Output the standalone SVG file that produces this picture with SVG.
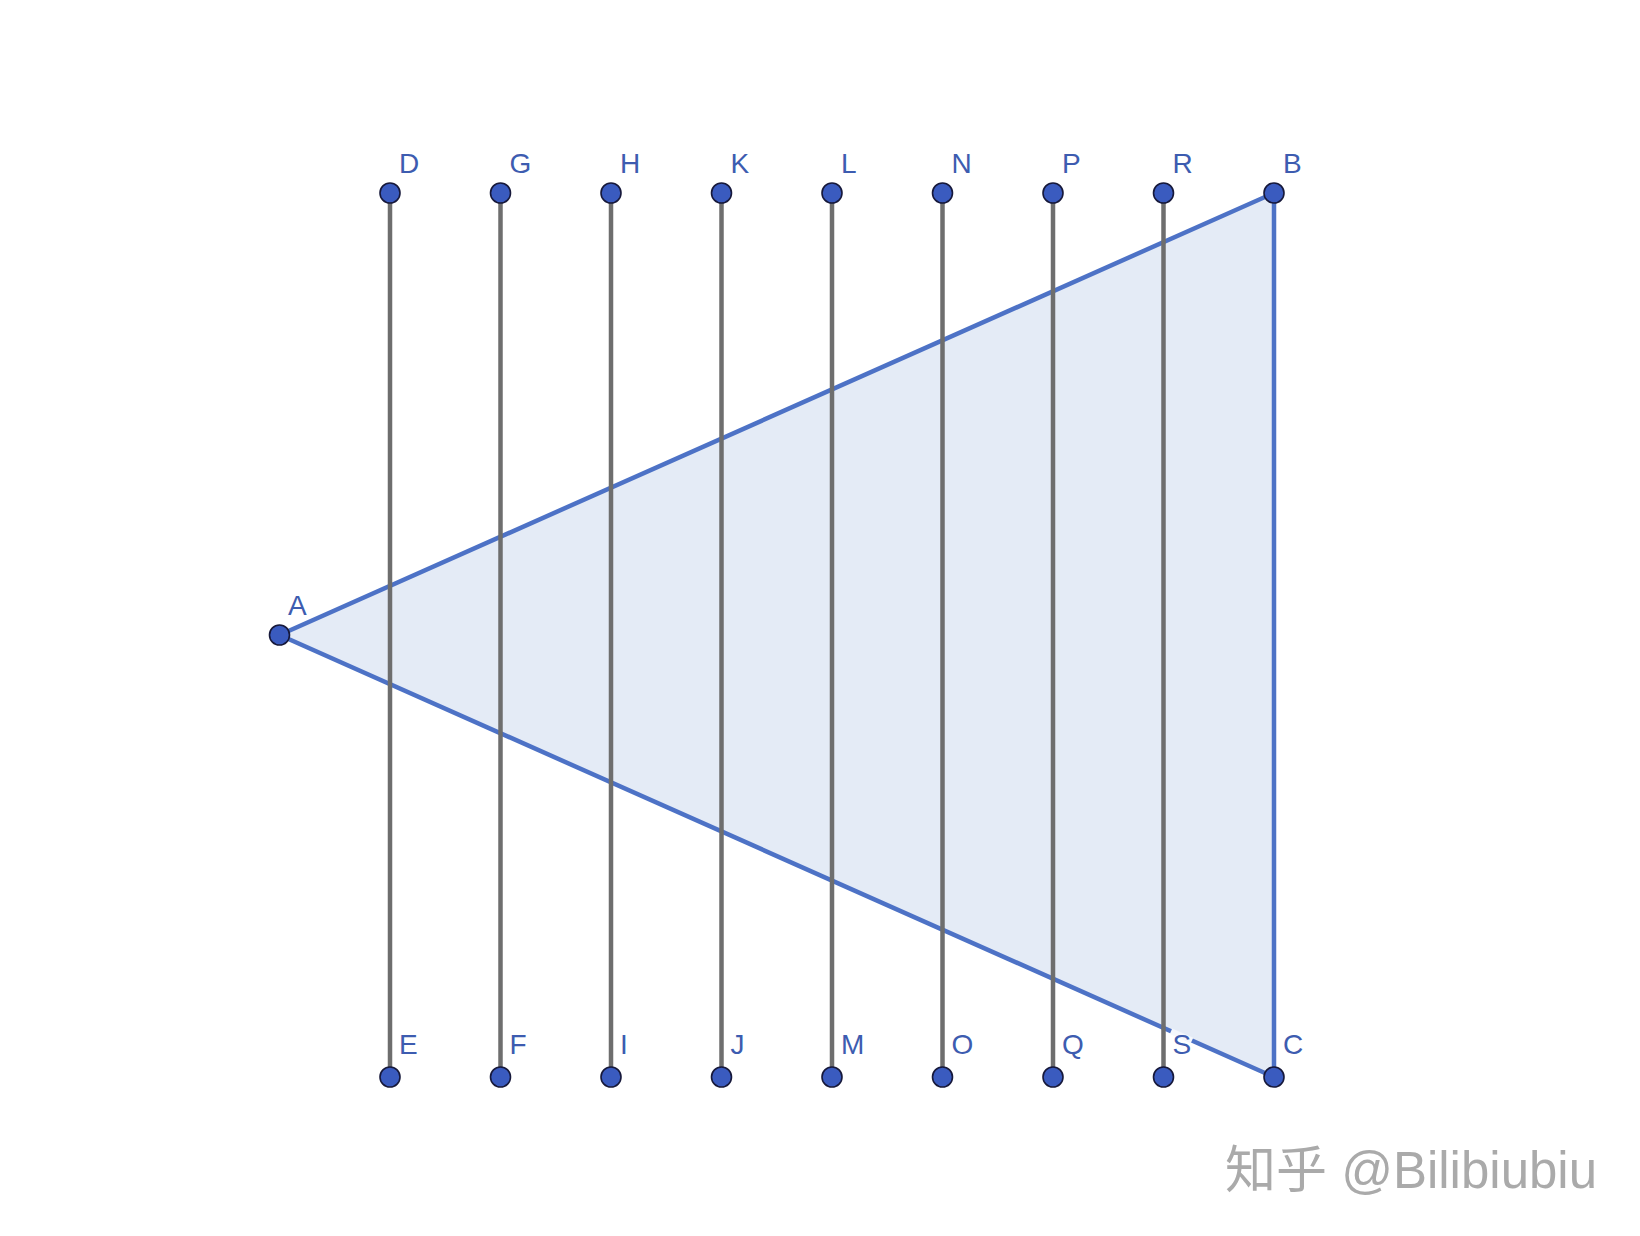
<svg xmlns="http://www.w3.org/2000/svg" width="1640" height="1236" viewBox="0 0 1640 1236">
<style>
.pt{fill:#3a5bbf;stroke:#16183a;stroke-width:1.6}
.lbl{font-family:"Liberation Sans",Arial,sans-serif;font-size:28px;fill:#3d5cb0}
.seg{stroke:#6e6e6e;stroke-width:4.5;fill:none}
.edge{stroke:#4d72c6;stroke-width:4.5;fill:none;stroke-linejoin:round}
</style>
<rect width="1640" height="1236" fill="#ffffff"/>
<polygon id="triangle" points="279.5,635 1274,193 1274,1077" fill="#e4ebf6" stroke="none"/>
<g id="connectors">
<polyline class="edge" points="279.5,635 1274,193 1274,1077 279.5,635"/>
<line x1="1171" y1="1031.2" x2="1192" y2="1040.5" stroke="#f4f7fc" stroke-width="6"/>
<line class="seg" x1="390" y1="193" x2="390" y2="1077"/>
<line class="seg" x1="500.5" y1="193" x2="500.5" y2="1077"/>
<line class="seg" x1="611" y1="193" x2="611" y2="1077"/>
<line class="seg" x1="721.5" y1="193" x2="721.5" y2="1077"/>
<line class="seg" x1="832" y1="193" x2="832" y2="1077"/>
<line class="seg" x1="942.5" y1="193" x2="942.5" y2="1077"/>
<line class="seg" x1="1053" y1="193" x2="1053" y2="1077"/>
<line class="seg" x1="1163.5" y1="193" x2="1163.5" y2="1077"/>
</g>
<g id="A"><circle class="pt" cx="279.5" cy="635" r="10"/><text class="lbl" x="288" y="615">A</text></g>
<g id="B"><circle class="pt" cx="1274" cy="193" r="10"/><text class="lbl" x="1283" y="173">B</text></g>
<g id="C"><circle class="pt" cx="1274" cy="1077" r="10"/><text class="lbl" x="1283" y="1054">C</text></g>
<g id="D"><circle class="pt" cx="390" cy="193" r="10"/><text class="lbl" x="399" y="173">D</text></g>
<g id="E"><circle class="pt" cx="390" cy="1077" r="10"/><text class="lbl" x="399" y="1054">E</text></g>
<g id="G"><circle class="pt" cx="500.5" cy="193" r="10"/><text class="lbl" x="509.5" y="173">G</text></g>
<g id="F"><circle class="pt" cx="500.5" cy="1077" r="10"/><text class="lbl" x="509.5" y="1054">F</text></g>
<g id="H"><circle class="pt" cx="611" cy="193" r="10"/><text class="lbl" x="620" y="173">H</text></g>
<g id="I"><circle class="pt" cx="611" cy="1077" r="10"/><text class="lbl" x="620" y="1054">I</text></g>
<g id="K"><circle class="pt" cx="721.5" cy="193" r="10"/><text class="lbl" x="730.5" y="173">K</text></g>
<g id="J"><circle class="pt" cx="721.5" cy="1077" r="10"/><text class="lbl" x="730.5" y="1054">J</text></g>
<g id="L"><circle class="pt" cx="832" cy="193" r="10"/><text class="lbl" x="841" y="173">L</text></g>
<g id="M"><circle class="pt" cx="832" cy="1077" r="10"/><text class="lbl" x="841" y="1054">M</text></g>
<g id="N"><circle class="pt" cx="942.5" cy="193" r="10"/><text class="lbl" x="951.5" y="173">N</text></g>
<g id="O"><circle class="pt" cx="942.5" cy="1077" r="10"/><text class="lbl" x="951.5" y="1054">O</text></g>
<g id="P"><circle class="pt" cx="1053" cy="193" r="10"/><text class="lbl" x="1062" y="173">P</text></g>
<g id="Q"><circle class="pt" cx="1053" cy="1077" r="10"/><text class="lbl" x="1062" y="1054">Q</text></g>
<g id="R"><circle class="pt" cx="1163.5" cy="193" r="10"/><text class="lbl" x="1172.5" y="173">R</text></g>
<g id="S"><circle class="pt" cx="1163.5" cy="1077" r="10"/><text class="lbl" x="1172.5" y="1054">S</text></g>
<text x="1225" y="1188" font-family="'Liberation Sans','Noto Sans CJK SC',sans-serif" font-size="51" fill="#aaaaaa">知乎 @Bilibiubiu</text>
</svg>
